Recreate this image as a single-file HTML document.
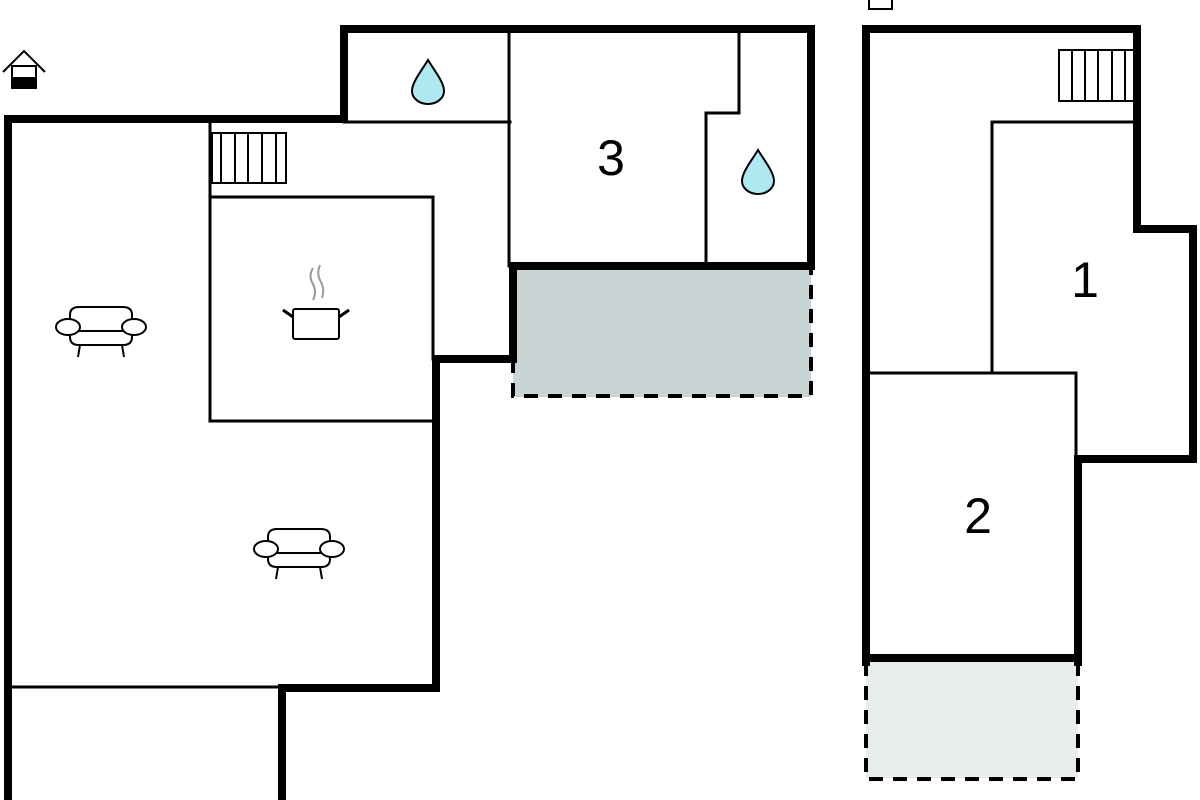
<!DOCTYPE html>
<html><head><meta charset="utf-8"><style>html,body{margin:0;padding:0;background:#fff;}svg{display:block}</style></head>
<body>
<svg width="1200" height="800" viewBox="0 0 1200 800" xmlns="http://www.w3.org/2000/svg">
<defs>
<g id="sofa" fill="#fff" stroke="#000" stroke-width="2">
  <path d="M-31,4 L-31,-12 Q-31,-20 -22,-20 L22,-20 Q31,-20 31,-12 L31,4 Z"/>
  <path d="M-31,4 L31,4 L31,10 Q31,18 22,18 L-22,18 Q-31,18 -31,10 Z"/>
  <ellipse cx="-33" cy="0" rx="12" ry="8"/>
  <ellipse cx="33" cy="0" rx="12" ry="8"/>
  <line x1="-21" y1="18" x2="-23" y2="30"/>
  <line x1="21" y1="18" x2="23" y2="30"/>
</g>
<g id="drop"><path d="M0,-22 C6,-12 16,0 16,9 A16,13 0 0 1 -16,9 C-16,0 -6,-12 0,-22 Z" fill="#aee8f0" stroke="#000" stroke-width="2"/></g>
</defs>

<!-- grey areas -->
<rect x="513" y="266" width="298" height="131" fill="#c9d5d5"/>
<rect x="866" y="662" width="212" height="116" fill="#e7eded"/>

<g stroke="#000" fill="none" stroke-linecap="square">
  <path d="M8,800 L8,119 L344,119 L344,29 L811,29 L811,266 L513,266 L513,359 L436,359 L436,688 L282,688 L282,800" stroke-width="8"/>
  <g stroke-width="3">
    <line x1="8" y1="687" x2="282" y2="687"/>
    <line x1="210" y1="119" x2="210" y2="421"/>
    <line x1="210" y1="197" x2="433" y2="197"/>
    <line x1="210" y1="421" x2="436" y2="421"/>
    <line x1="433" y1="197" x2="433" y2="359"/>
    <line x1="344" y1="122" x2="510" y2="122"/>
    <line x1="509" y1="29" x2="509" y2="266"/>
    <path d="M739,29 L739,113 L706,113 L706,266"/>
  </g>
  <path d="M513,359 L513,396 L811,396 L811,266" stroke-width="4" stroke-dasharray="14,10" stroke-linecap="butt"/>

  <path d="M866,662 L866,29 L1137,29 L1137,229 L1193,229 L1193,459 L1078,459 L1078,662 M866,658 L1078,658" stroke-width="8"/>
  <g stroke-width="3">
    <path d="M1137,122 L992,122 L992,373"/>
    <path d="M866,373 L1076,373 L1076,459"/>
  </g>
  <path d="M866,662 L866,779 L1078,779 L1078,662" stroke-width="4" stroke-dasharray="14,10" stroke-linecap="butt"/>
  <rect x="869" y="-3" width="23" height="12" stroke-width="2"/>
</g>

<g fill="#fff" stroke="#000" stroke-width="2">
  <rect x="212" y="133" width="74" height="50"/>
  <line x1="221" y1="133" x2="221" y2="183"/><line x1="235" y1="133" x2="235" y2="183"/><line x1="248" y1="133" x2="248" y2="183"/><line x1="262" y1="133" x2="262" y2="183"/><line x1="276" y1="133" x2="276" y2="183"/>
  <rect x="1059" y="50" width="75" height="51"/>
  <line x1="1072" y1="50" x2="1072" y2="101"/><line x1="1085" y1="50" x2="1085" y2="101"/><line x1="1098" y1="50" x2="1098" y2="101"/><line x1="1112" y1="50" x2="1112" y2="101"/><line x1="1125" y1="50" x2="1125" y2="101"/>
</g>

<use href="#drop" x="428" y="82"/>
<use href="#drop" x="758" y="172"/>

<use href="#sofa" x="101" y="327"/>
<use href="#sofa" x="299" y="549"/>

<g stroke="#000" stroke-width="2" fill="#fff">
  <rect x="293" y="309" width="46" height="30" rx="2"/>
  <line x1="293" y1="317" x2="283" y2="310" stroke-width="3"/>
  <line x1="339" y1="317" x2="349" y2="310" stroke-width="3"/>
</g>
<g stroke="#999" stroke-width="2" fill="none">
  <path d="M313,268 Q308,276 313,284 Q317,292 313,300"/>
  <path d="M320,265 Q316,274 321,282 Q325,290 322,298"/>
</g>

<g stroke="#000" stroke-width="2" fill="none">
  <path d="M3,72 L24,51 L45,72"/>
  <rect x="12" y="66" width="24" height="22"/>
</g>
<rect x="12" y="77" width="24" height="11" fill="#000"/>

<g font-family="Liberation Sans, sans-serif" font-size="50" fill="#000" text-anchor="middle">
  <text x="611" y="175">3</text>
  <text x="1085" y="297">1</text>
  <text x="978" y="533">2</text>
</g>
</svg>
</body></html>
